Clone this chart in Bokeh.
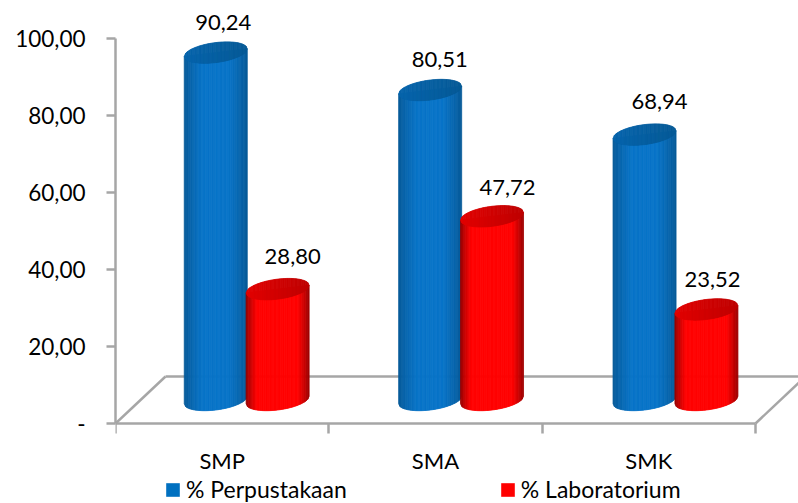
import numpy as np
from bokeh.plotting import figure
from bokeh.models import (FixedTicker, Legend, LegendItem, Range1d)
from bokeh.core.properties import value
from bokeh.embed import file_html
from bokeh.resources import INLINE

categories = ["SMP", "SMA", "SMK"]
perpustakaan = [90.24, 80.51, 68.94]
laboratorium = [28.80, 47.72, 23.52]
y_ticks = [0, 20, 40, 60, 80, 100]
y_labels = ["-", "20,00", "40,00", "60,00", "80,00", "100,00"]
labels_p = ["90,24", "80,51", "68,94"]
labels_l = ["28,80", "47,72", "23,52"]

FONT = "Lato"
PX_X = 213.33   # px per category
PX_Y = 3.85     # px per value unit
GREY = "#a6a6a6"
# hand-placed label nudges of the original, in px
NUDGE_P = [(7.5, 0), (9.5, 1), (15, 3)]
NUDGE_L = [(15, 3), (15.5, -1), (6, 0)]

p = figure(width=798, height=503, output_backend="svg", toolbar_location=None,
           x_range=Range1d(0, 683 / PX_X), y_range=Range1d(-80 / PX_Y, 423 / PX_Y),
           min_border_left=115, min_border_right=0, min_border_top=0, min_border_bottom=0,
           outline_line_color=None)
p.grid.visible = False

# axes
yax = p.yaxis[0]
yax.ticker = FixedTicker(ticks=y_ticks)
yax.major_label_overrides = dict(zip(y_ticks, y_labels))
yax.bounds = (0, 100)
yax.axis_line_color = GREY
yax.axis_line_width = 2.5
yax.major_tick_line_color = GREY
yax.major_tick_line_width = 2.5
yax.major_tick_out = 9
yax.major_tick_in = 0
yax.minor_tick_line_color = None
yax.major_label_standoff = 21
yax.major_label_text_font = FONT
yax.major_label_text_font_size = "22.5px"
yax.major_label_text_color = "#000000"

xax = p.xaxis[0]
centers = [i + 0.5 for i in range(len(categories))]
xax.fixed_location = 0
xax.ticker = FixedTicker(ticks=centers, minor_ticks=list(range(len(categories) + 1)))
xax.major_label_overrides = dict(zip(centers, categories))
xax.bounds = (0, 3)
xax.axis_line_color = GREY
xax.axis_line_width = 2.5
xax.major_tick_line_color = None
xax.minor_tick_line_color = GREY
xax.minor_tick_line_width = 2.5
xax.minor_tick_out = 10
xax.minor_tick_in = 0
xax.major_label_standoff = 13
xax.major_label_text_font = FONT
xax.major_label_text_font_size = "22px"
xax.major_label_text_color = "#000000"

# floor
depth_x, depth_y = 50 / PX_X, 47 / PX_Y
p.line([0, depth_x], [0, depth_y], line_color=GREY, line_width=2.5)
p.line([depth_x, 683 / PX_X], [depth_y, depth_y], line_color=GREY, line_width=2.5)
p.line([3, 3 + depth_x], [0, depth_y], line_color=GREY, line_width=2.5)


def mix(a, b, f):
    return "#%02x%02x%02x" % tuple(int(round(a[i] + (b[i] - a[i]) * f)) for i in range(3))


def cylinder(cx, val, edge_l, mid, edge_r, cap_l, cap_r, plateau):
    R, H, T = 31.5 / PX_X, 10 / PX_Y, 3.8 / PX_Y
    base = depth_y / 2
    top = base + val
    ts = np.linspace(-1, 1, 49)
    xs, ys, cols = [], [], []
    for a, b in zip(ts[:-1], ts[1:]):
        m = (a + b) / 2
        f = min(1.0, (1 - abs(m)) / plateau)
        side = mix(edge_l if m < 0 else edge_r, mid, f ** 0.8)
        bot_a = base + T * a - H * np.sqrt(1 - a * a)
        bot_b = base + T * b - H * np.sqrt(1 - b * b)
        xs.append([cx + R * a, cx + R * b, cx + R * b, cx + R * a])
        ys.append([bot_a, bot_b, top + T * b, top + T * a])
        cols.append(side)
    p.patches(xs, ys, fill_color=cols, line_color=cols, line_width=0.8)
    xs, ys, cols = [], [], []
    for a, b in zip(ts[:-1], ts[1:]):
        m = (a + b) / 2
        ha, hb = H * np.sqrt(1 - a * a), H * np.sqrt(1 - b * b)
        xs.append([cx + R * a, cx + R * b, cx + R * b, cx + R * a])
        ys.append([top + T * a - ha, top + T * b - hb, top + T * b + hb, top + T * a + ha])
        cols.append(mix(cap_l, cap_r, (m + 1) / 2))
    p.patches(xs, ys, fill_color=cols, line_color=cols, line_width=0.8)


BLUE = "#0070c0"
RED = "#ff0000"
label_x, label_y, label_t = [], [], []
for i in range(3):
    cb = i * 1.005 + 0.47
    cr = cb + 0.29
    cylinder(cb, perpustakaan[i], (6, 88, 150), (8, 116, 200), (6, 88, 150),
             (6, 100, 172), (6, 90, 150), 0.6)
    cylinder(cr, laboratorium[i], (140, 0, 0), (255, 0, 0), (150, 0, 0),
             (226, 0, 0), (190, 0, 0), 0.35)
    label_x += [cb + NUDGE_P[i][0] / PX_X, cr + NUDGE_L[i][0] / PX_X]
    label_y += [depth_y / 2 + perpustakaan[i] + 7.8 + NUDGE_P[i][1] / PX_Y,
                depth_y / 2 + laboratorium[i] + 7.8 + NUDGE_L[i][1] / PX_Y]
    label_t += [labels_p[i], labels_l[i]]

p.text(x=label_x, y=label_y, text=label_t, text_font=value(FONT), text_font_size="22px",
       text_color="#000000", text_align="center", text_baseline="middle")

# legend
nan = float("nan")
r1 = p.quad(left=[nan], right=[nan], bottom=[nan], top=[nan], fill_color=BLUE, line_color=None)
r2 = p.quad(left=[nan], right=[nan], bottom=[nan], top=[nan], fill_color=RED, line_color=None)
leg = Legend(items=[LegendItem(label="% Perpustakaan", renderers=[r1]),
                    LegendItem(label="% Laboratorium", renderers=[r2])],
             orientation="horizontal", location=(49, 0), spacing=152, padding=0, margin=0,
             glyph_width=17, glyph_height=17, label_standoff=5,
             background_fill_alpha=0, border_line_color=None,
             label_text_font=FONT, label_text_font_size="23px", label_text_color="#000000",
             label_height=20)
p.add_layout(leg, "center")

open("out.html", "w").write(file_html(p, INLINE))
